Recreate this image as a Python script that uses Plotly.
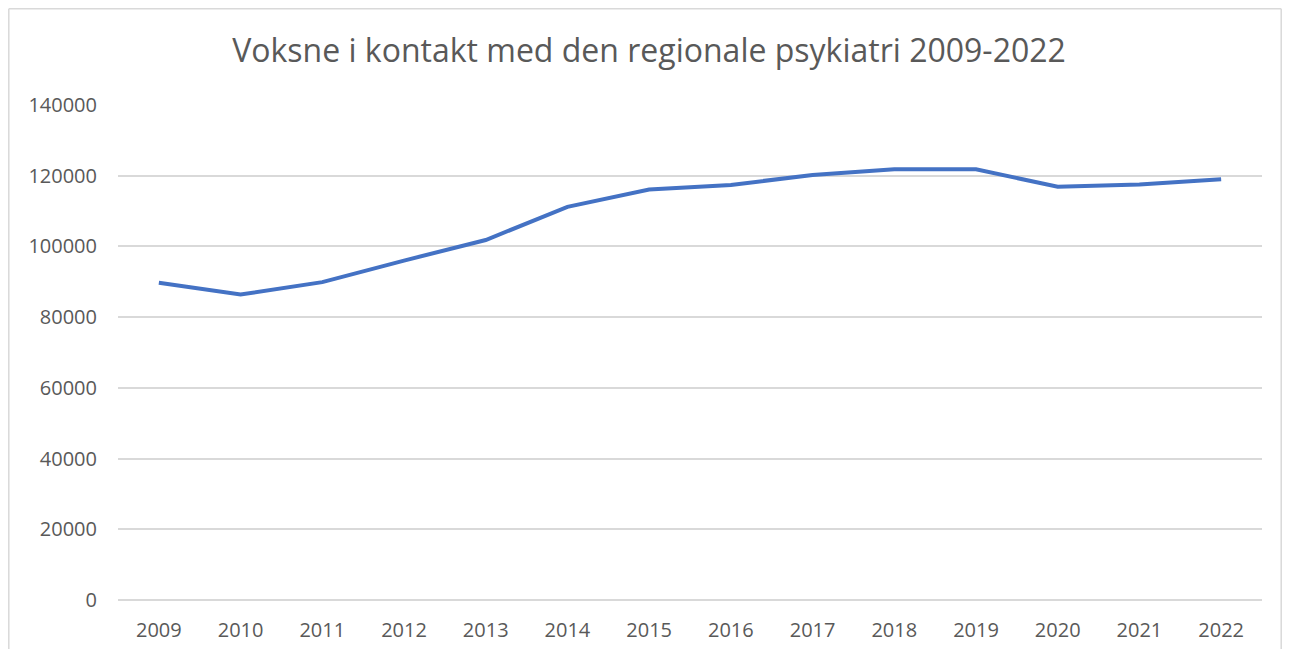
import plotly.graph_objects as go

years = [str(y) for y in range(2009, 2023)]
voksne = [89700, 86400, 89900, 96000, 101800, 111200, 116100,
          117400, 120200, 121800, 121800, 116900, 117500, 119000]
y_ticks = [0, 20000, 40000, 60000, 80000, 100000, 120000, 140000]

# page body has an 8px margin, so the figure is a bit smaller than the window
W, H = 1274, 641
L, R, T, B = 110, 20, 97, 49
grey = "#595959"

fig = go.Figure()
fig.add_trace(go.Scatter(
    x=years, y=voksne, mode="lines",
    line=dict(color="#4472C4", width=4),
    showlegend=False,
))

# chart frame (excel-style border), left / top / right only
pw, ph = W - L - R, H - T - B
fx0 = (0.8 - L) / pw
fx1 = (W - 0.8 - L) / pw
fy1 = (ph + T - 0.8) / ph
fy0 = -(B + 20) / ph
frame = dict(color="#d9d9d9", width=1.5)
fig.add_shape(type="line", xref="paper", yref="paper",
              x0=fx0, x1=fx0, y0=fy0, y1=fy1, line=frame)
fig.add_shape(type="line", xref="paper", yref="paper",
              x0=fx0, x1=fx1, y0=fy1, y1=fy1, line=frame)
fig.add_shape(type="line", xref="paper", yref="paper",
              x0=fx1, x1=fx1, y0=fy0, y1=fy1, line=frame)

fig.update_layout(
    width=W, height=H,
    margin=dict(l=L, r=R, t=T, b=B),
    paper_bgcolor="white", plot_bgcolor="white",
    font=dict(family="Open Sans", color=grey, size=20),
    title=dict(text="Voksne i kontakt med den regionale psykiatri 2009-2022",
               x=(649 - 8) / W, xanchor="center",
               y=1 - 43 / H, yanchor="middle",
               font=dict(size=32, color=grey)),
    xaxis=dict(type="category", range=[-0.5, 13.5], automargin=False,
               showgrid=False, showline=False, ticks="",
               ticklabelstandoff=16,
               tickfont=dict(size=20, color=grey)),
    yaxis=dict(range=[0, 140000], tickvals=y_ticks, automargin=False,
               ticktext=[str(v) for v in y_ticks],
               showgrid=True, gridcolor="#d9d9d9", gridwidth=1.5,
               zeroline=True, zerolinecolor="#d9d9d9", zerolinewidth=1.5,
               showline=False, ticks="",
               ticklabelstandoff=20,
               tickfont=dict(size=20, color=grey)),
)

fig.write_html("out.html")
